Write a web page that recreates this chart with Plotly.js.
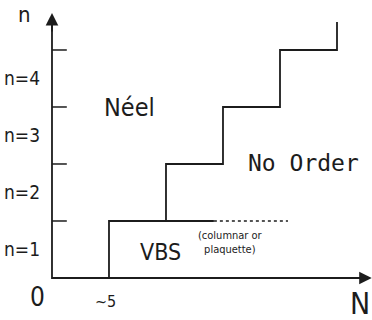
<!DOCTYPE html>
<html>
<head>
<meta charset="utf-8">
<script src="https://cdn.plot.ly/plotly-3.0.1.min.js"></script>
<style>
  html, body { margin: 0; padding: 0; background: #fff; }
  #chart { width: 372px; height: 320px; }
</style>
</head>
<body>
<div id="chart"></div>
<script>
// Phase diagram: spin ladder with n legs vs. system size N (schematic units)
const levels = [1, 2, 3, 4];              // n values on the vertical axis
const levelLabels = ["n=1", "n=2", "n=3", "n=4"];
const boundaryN = [1, 2, 3, 4, 5];        // N where each step of the boundary rises
const boundaryTop = 4.49;                 // last boundary segment ends here
const vbsSolidEnd = 2.84;                 // VBS upper edge, solid part
const vbsDottedEnd = 4.14;                // VBS upper edge, uncertain part
const xTickLabel = "~5";

const ink = "#1c1c1c";
const narrow = "'Liberation Sans Narrow', 'DejaVu Sans Condensed', 'Liberation Sans', sans-serif";
const mono = "'DejaVu Sans Mono', 'Liberation Mono', monospace";

// staircase between the Néel and No Order regions
const stairX = [], stairY = [];
boundaryN.forEach((x, i) => {
  const lo = i;                                   // level at the bottom of this riser
  const hi = i + 1 < boundaryN.length ? i + 1 : boundaryTop;
  stairX.push(x, x);
  stairY.push(lo, hi);
  if (i + 1 < boundaryN.length) { stairX.push(boundaryN[i + 1]); stairY.push(hi); }
});

// short tick marks on the n axis
const tickX = [], tickY = [];
levels.forEach(v => { tickX.push(0, 0.26, null); tickY.push(v, v, null); });

const traces = [
  { x: [0, 0, 5.45], y: [4.45, 0, 0], mode: "lines", line: { color: ink, width: 1.8 }, hoverinfo: "skip" },
  { x: tickX, y: tickY, mode: "lines", line: { color: ink, width: 1.5 }, hoverinfo: "skip" },
  { x: stairX, y: stairY, mode: "lines", line: { color: ink, width: 1.8 }, hoverinfo: "skip" },
  { x: [boundaryN[1], vbsSolidEnd], y: [levels[0], levels[0]], mode: "lines", line: { color: ink, width: 1.8 }, hoverinfo: "skip" },
  { x: [vbsSolidEnd, vbsDottedEnd], y: [levels[0], levels[0]], mode: "lines", line: { color: ink, width: 1.5, dash: "dot" }, hoverinfo: "skip" }
];

const annotations = [
  // axis arrowheads
  { x: 0, y: 4.65, ax: 0, ay: 4.3, axref: "x", ayref: "y", xref: "x", yref: "y", text: "", showarrow: true, arrowhead: 2, arrowsize: 1.4, arrowwidth: 1.8, arrowcolor: ink },
  { x: 5.61, y: 0, ax: 5.2, ay: 0, axref: "x", ayref: "y", xref: "x", yref: "y", text: "", showarrow: true, arrowhead: 2, arrowsize: 1.4, arrowwidth: 1.8, arrowcolor: ink },
  // axis names and origin
  { x: -0.49, y: 4.614, text: "n", showarrow: false, font: { family: narrow, size: 22, color: ink } },
  { x: 5.40, y: -0.44, text: "N", showarrow: false, font: { family: narrow, size: 30, color: ink } },
  { x: -0.246, y: -0.34, text: "0", showarrow: false, font: { family: narrow, size: 26, color: ink } },
  { x: boundaryN[0] - 0.07, y: -0.42, text: xTickLabel, showarrow: false, font: { family: narrow, size: 16, color: ink } },
  // region names
  { x: 1.368, y: 2.99, text: "Néel", showarrow: false, font: { family: narrow, size: 25, color: ink } },
  { x: 4.404, y: 2.02, text: "No Order", showarrow: false, font: { family: mono, size: 23, color: ink } },
  { x: 1.895, y: 0.45, text: "VBS", showarrow: false, font: { family: narrow, size: 23, color: ink } },
  { x: 3.14, y: 0.62, text: "(columnar or<br>plaquette)", showarrow: false, font: { family: narrow, size: 11, color: ink } }
];
levels.forEach((v, i) => {
  annotations.push({ x: -0.526, y: v - 0.5, text: levelLabels[i], showarrow: false, font: { family: narrow, size: 19, color: ink } });
});

const hidden = { visible: false, fixedrange: true };
const layout = {
  width: 372, height: 320,
  margin: { l: 0, r: 0, t: 0, b: 0, pad: 0 },
  paper_bgcolor: "#fff", plot_bgcolor: "#fff",
  showlegend: false,
  xaxis: Object.assign({ range: [-0.912, 5.614] }, hidden),
  yaxis: Object.assign({ range: [-0.737, 4.877] }, hidden),
  annotations: annotations
};

Plotly.newPlot("chart", traces, layout, { staticPlot: true, displayModeBar: false });
</script>
</body>
</html>
